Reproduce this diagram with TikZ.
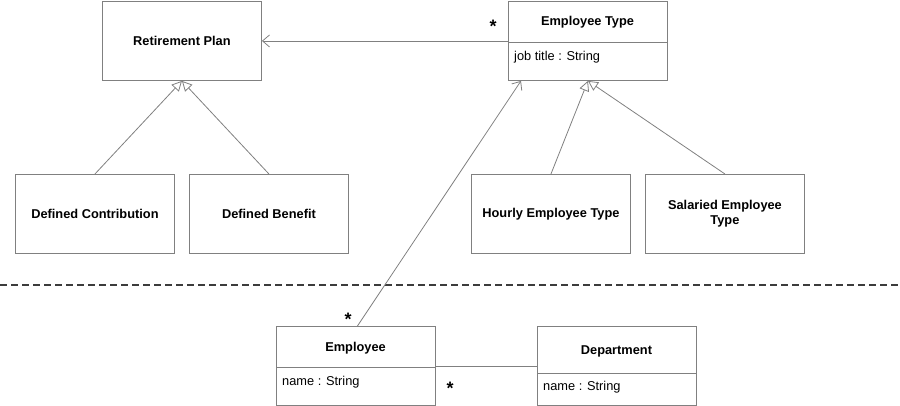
\documentclass[tikz,border=0pt]{standalone}
\usepackage{fontspec}
\setmainfont{Liberation Sans}
\usetikzlibrary{arrows.meta}
\definecolor{edge}{RGB}{128,128,128}
\definecolor{dashc}{RGB}{60,60,60}
\begin{document}
\begin{tikzpicture}[x=1pt,y=-1pt,
  box/.style={draw=edge,line width=0.9pt,fill=white,minimum width=159pt,minimum height=79pt,anchor=north west,inner sep=2pt,align=center,font=\bfseries\fontsize{12.8}{15}\selectfont},
  title/.style={font=\bfseries\fontsize{12.8}{15}\selectfont},
  attr/.style={font=\fontsize{12.8}{15}\selectfont,anchor=west,inner sep=0pt},
  star/.style={font=\bfseries\fontsize{18}{18}\selectfont,inner sep=0pt},
  conn/.style={draw=edge,line width=0.8pt},
  gen/.style={conn,-{Triangle[open,length=10pt,width=10pt]}},
  assoc/.style={conn,-{Straight Barb[length=7pt,width=12pt]}},
  divider/.style={draw=edge,line width=0.9pt}]
\useasboundingbox (0,0) rectangle (900,406);
% boxes
\node[box] (rp) at (102,1) {Retirement Plan};
\node[box] (et) at (508,1) {};
\node[box] (dc) at (15,174) {Defined Contribution};
\node[box] (db) at (189,174) {Defined Benefit};
\node[box] (he) at (471,174) {Hourly Employee Type};
\node[box] (se) at (645,174) {Salaried Employee\\Type};
\node[box] (emp) at (276,326) {};
\node[box] (dep) at (537,326) {};
% compartments
\node[title] (ett) at (587.5,22.5) {Employee Type};
\draw[divider] (508,42.5) -- (667,42.5);
\node[attr] (eta) at (514,57) {job title : String};
\node[title] (empt) at (355.5,348) {Employee};
\draw[divider] (276,367) -- (435,367);
\node[attr] (empa) at (282,382.5) {name : String};
\node[title] (dept) at (616.5,351) {Department};
\draw[divider] (537,373) -- (696,373);
\node[attr] (depa) at (543,387.5) {name : String};
% dashed separator
\coordinate (dl) at (0,285);
\coordinate (dr) at (900,285);
\draw[dashc,line width=1.6pt,dash pattern=on 7pt off 4pt] (dl) -- (dr);
% connectors
\draw[gen] (dc.north) -- (rp.south);
\draw[gen] (db.north) -- (rp.south);
\draw[gen] (he.north) -- (et.south);
\draw[gen] (se.north) -- (et.south);
\draw[assoc] (et.west) -- (rp.east);
\draw[assoc] ([xshift=1.5pt]emp.north) -- ([xshift=13pt]et.south west);
\draw[conn] (emp.east) -- (dep.west);
% multiplicities
\node[star] (s1) at (493,26) {*};
\node[star] (s2) at (348,319) {*};
\node[star] (s3) at (450,388) {*};
\end{tikzpicture}
\end{document}
